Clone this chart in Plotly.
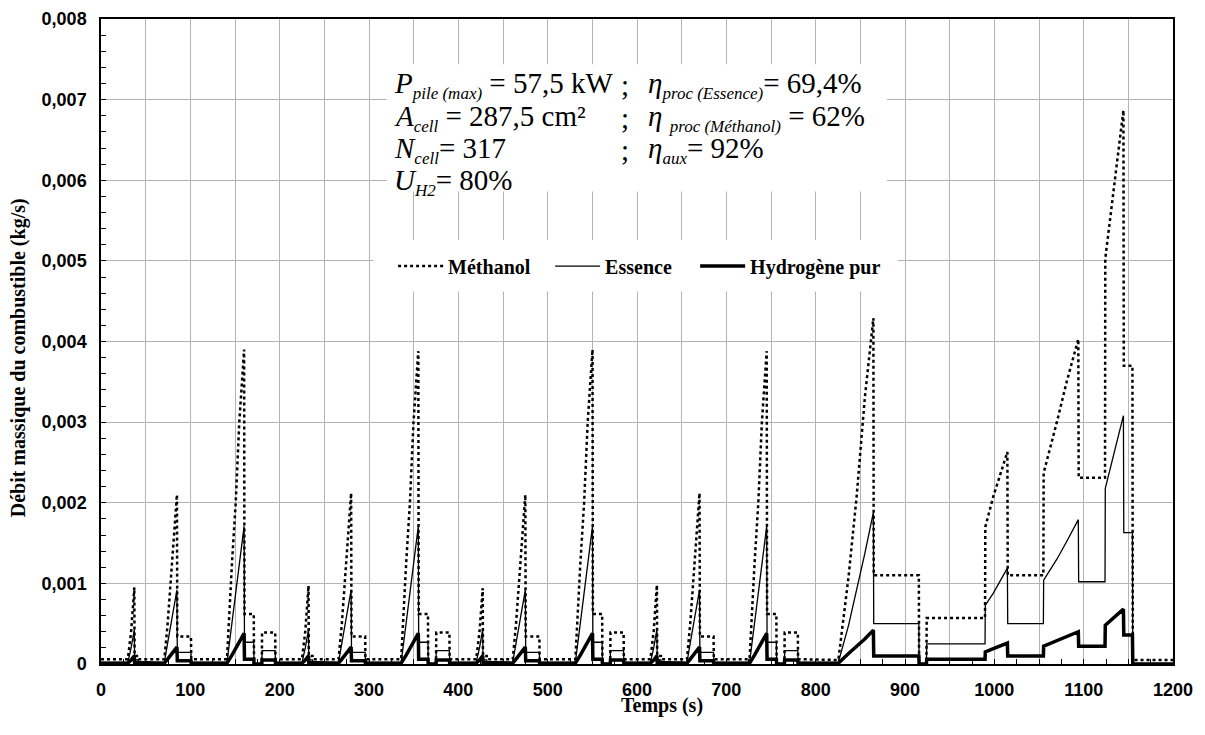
import plotly.graph_objects as go

# ---------------- data ----------------
temps = [
    # cycle urbain 1
    0.0, 30.0, 33.7, 37.3, 37.6, 41.8, 42.1, 70.9, 74.6, 78.4, 85.0, 85.4, 100.7, 101.0,
    141.0, 146.6, 150.8, 154.8, 160.2, 160.6, 171.0, 171.3, 180.0, 180.3, 195.0,
    # cycle urbain 2
    195.3, 225.0, 228.7, 232.3, 232.6, 236.8, 237.1, 265.9, 269.6, 273.4, 280.0, 280.4, 295.7, 296.0,
    336.0, 341.6, 345.8, 349.8, 355.2, 355.6, 366.0, 366.3, 375.0, 375.3, 390.0,
    # cycle urbain 3
    390.3, 420.0, 423.7, 427.3, 427.6, 431.8, 432.1, 460.9, 464.6, 468.4, 475.0, 475.4, 490.7, 491.0,
    531.0, 536.6, 540.8, 544.8, 550.2, 550.6, 561.0, 561.3, 570.0, 570.3, 585.0,
    # cycle urbain 4
    585.3, 615.0, 618.7, 622.3, 622.6, 626.8, 627.1, 655.9, 659.6, 663.4, 670.0, 670.4, 685.7, 686.0,
    726.0, 731.6, 735.8, 739.8, 745.2, 745.6, 756.0, 756.3, 765.0, 765.3, 780.0,
    # cycle extra-urbain
    780.3, 825.4, 836.8, 845.9, 855.0, 864.6, 865.0, 915.5, 915.8, 924.0, 924.3, 989.6, 989.9, 998.9,
    1014.6, 1015.0, 1054.9, 1055.2, 1070.0, 1081.0, 1094.0, 1094.4, 1123.9, 1124.2, 1144.5, 1144.9,
    1154.6, 1155.0, 1200.0,
]

methanol = [
    0.00006, 0.00006, 0.00040, 0.00095, 0.00010, 0.00010, 0.00006, 0.00006, 0.00050, 0.00110, 0.00210, 0.00034, 0.00034, 0.00006,
    0.00006, 0.00125, 0.00200, 0.00300, 0.00390, 0.00062, 0.00062, 0.0, 0.0, 0.00039, 0.00039,
    0.00006, 0.00006, 0.00041, 0.00097, 0.00010, 0.00010, 0.00006, 0.00006, 0.00050, 0.00111, 0.00212, 0.00034, 0.00034, 0.00006,
    0.00006, 0.00125, 0.00200, 0.00300, 0.00388, 0.00062, 0.00062, 0.0, 0.0, 0.00039, 0.00039,
    0.00006, 0.00006, 0.00040, 0.00094, 0.00010, 0.00010, 0.00006, 0.00006, 0.00050, 0.00110, 0.00210, 0.00034, 0.00034, 0.00006,
    0.00006, 0.00125, 0.00200, 0.00300, 0.00390, 0.00062, 0.00062, 0.0, 0.0, 0.00039, 0.00039,
    0.00006, 0.00006, 0.00041, 0.00098, 0.00010, 0.00010, 0.00006, 0.00006, 0.00050, 0.00111, 0.00212, 0.00034, 0.00034, 0.00006,
    0.00006, 0.00125, 0.00200, 0.00300, 0.00388, 0.00062, 0.00062, 0.0, 0.0, 0.00039, 0.00039,
    0.00006, 0.00005, 0.00108, 0.00208, 0.00330, 0.00429, 0.00110, 0.00110, 0.0, 0.0, 0.00057, 0.00057, 0.00170, 0.00208,
    0.00263, 0.00110, 0.00110, 0.00237, 0.00300, 0.00350, 0.00403, 0.00231, 0.00231, 0.00503, 0.00687, 0.00370,
    0.00370, 0.00005, 0.00005,
]

essence = [
    0.00002, 0.00002, 0.00020, 0.00043, 0.00005, 0.00005, 0.00002, 0.00002, 0.00026, 0.00050, 0.00092, 0.000145, 0.000145, 0.00002,
    0.00002, 0.00051, 0.00088, 0.00124, 0.00171, 0.00027, 0.00027, 0.0, 0.0, 0.000165, 0.000165,
    0.00002, 0.00002, 0.00020, 0.00043, 0.00005, 0.00005, 0.00002, 0.00002, 0.00026, 0.00050, 0.00092, 0.000145, 0.000145, 0.00002,
    0.00002, 0.00051, 0.00088, 0.00124, 0.00171, 0.00027, 0.00027, 0.0, 0.0, 0.000165, 0.000165,
    0.00002, 0.00002, 0.00020, 0.00043, 0.00005, 0.00005, 0.00002, 0.00002, 0.00026, 0.00050, 0.00092, 0.000145, 0.000145, 0.00002,
    0.00002, 0.00051, 0.00088, 0.00124, 0.00171, 0.00027, 0.00027, 0.0, 0.0, 0.000165, 0.000165,
    0.00002, 0.00002, 0.00020, 0.00043, 0.00005, 0.00005, 0.00002, 0.00002, 0.00026, 0.00050, 0.00092, 0.000145, 0.000145, 0.00002,
    0.00002, 0.00051, 0.00088, 0.00124, 0.00171, 0.00027, 0.00027, 0.0, 0.0, 0.000165, 0.000165,
    0.00002, 0.00002, 0.00048, 0.00092, 0.00137, 0.00188, 0.00050, 0.00050, 0.0, 0.0, 0.00025, 0.00025, 0.00073, 0.00088,
    0.00119, 0.00050, 0.00050, 0.00104, 0.00130, 0.00152, 0.00179, 0.00102, 0.00102, 0.00218, 0.00308, 0.00163,
    0.00163, 0.0, 0.0,
]

hydrogene = [
    0.00001, 0.00001, 0.00005, 0.00010, 0.00002, 0.00002, 0.00001, 0.00001, 0.00006, 0.00011, 0.00021, 0.00004, 0.00004, 0.00001,
    0.00001, 0.00011, 0.00020, 0.00027, 0.00038, 0.00006, 0.00006, 0.0, 0.0, 0.00005, 0.00005,
    0.00001, 0.00001, 0.00005, 0.00010, 0.00002, 0.00002, 0.00001, 0.00001, 0.00006, 0.00011, 0.00021, 0.00004, 0.00004, 0.00001,
    0.00001, 0.00011, 0.00020, 0.00027, 0.00038, 0.00006, 0.00006, 0.0, 0.0, 0.00005, 0.00005,
    0.00001, 0.00001, 0.00005, 0.00010, 0.00002, 0.00002, 0.00001, 0.00001, 0.00006, 0.00011, 0.00021, 0.00004, 0.00004, 0.00001,
    0.00001, 0.00011, 0.00020, 0.00027, 0.00038, 0.00006, 0.00006, 0.0, 0.0, 0.00005, 0.00005,
    0.00001, 0.00001, 0.00005, 0.00010, 0.00002, 0.00002, 0.00001, 0.00001, 0.00006, 0.00011, 0.00021, 0.00004, 0.00004, 0.00001,
    0.00001, 0.00011, 0.00020, 0.00027, 0.00038, 0.00006, 0.00006, 0.0, 0.0, 0.00005, 0.00005,
    0.00001, 0.00001, 0.00013, 0.00022, 0.00031, 0.00042, 0.00010, 0.00010, 0.0, 0.0, 0.00006, 0.00006, 0.00015, 0.00019,
    0.00026, 0.00010, 0.00010, 0.00022, 0.00029, 0.00034, 0.00040, 0.00022, 0.00022, 0.00048, 0.00068, 0.00036,
    0.00036, 0.0, 0.0,
]

x_tick_values = [0, 100, 200, 300, 400, 500, 600, 700, 800, 900, 1000, 1100, 1200]
x_tick_labels = ["0", "100", "200", "300", "400", "500", "600", "700", "800", "900", "1000", "1100", "1200"]
x_half_grid = [50, 150, 250, 350, 450, 550, 650, 750, 850, 950, 1050, 1150]
y_tick_values = [0, 0.001, 0.002, 0.003, 0.004, 0.005, 0.006, 0.007, 0.008]
y_tick_labels = ["0", "0,001", "0,002", "0,003", "0,004", "0,005", "0,006", "0,007", "0,008"]

series_names = ["Méthanol", "Essence", "Hydrogène pur"]

# ---------------- figure ----------------
serif = "Liberation Serif, Times New Roman, serif"
sans = "Liberation Sans, Arial, sans-serif"
GRID = "#b4b4b4"

fig = go.Figure()
fig.add_trace(go.Scatter(x=temps, y=methanol, mode="lines", name=series_names[0], legendwidth=97,
                         line=dict(color="black", width=2.5, dash="dot")))
fig.add_trace(go.Scatter(x=temps, y=essence, mode="lines", name=series_names[1], legendwidth=85,
                         line=dict(color="black", width=1.3)))
fig.add_trace(go.Scatter(x=temps, y=hydrogene, mode="lines", name=series_names[2],
                         line=dict(color="black", width=3.5)))
# helper (empty) trace so the overlaid axis carrying the half-step grid is drawn
fig.add_trace(go.Scatter(x=[], y=[], xaxis="x2", showlegend=False, hoverinfo="skip"))

fig.update_layout(
    xaxis=dict(
        range=[0, 1200], tickmode="array", tickvals=x_tick_values, ticktext=x_tick_labels,
        showgrid=True, gridcolor=GRID, gridwidth=1,
        ticks="inside", ticklen=5, tickcolor="black",
        minor=dict(dtick=25, tick0=0, ticks="inside", ticklen=5, tickcolor="black", showgrid=False),
        showline=True, linecolor="black", linewidth=1.5, mirror=True,
        tickfont=dict(family=sans, size=18, color="black", weight="bold"),
        ticklabelstandoff=9, automargin=False, zeroline=False,
    ),
    xaxis2=dict(
        range=[0, 1200], overlaying="x", anchor="y", side="bottom",
        tickmode="array", tickvals=x_half_grid, showticklabels=False, ticks="",
        showgrid=True, gridcolor=GRID, gridwidth=1, showline=False, zeroline=False,
        automargin=False,
    ),
    yaxis=dict(
        range=[0, 0.008], tickmode="array", tickvals=y_tick_values, ticktext=y_tick_labels,
        showgrid=True, gridcolor=GRID, gridwidth=1,
        ticks="inside", ticklen=5, tickcolor="black",
        minor=dict(dtick=0.0002, tick0=0, ticks="inside", ticklen=5, tickcolor="black", showgrid=False),
        showline=True, linecolor="black", linewidth=1.5, mirror=True,
        tickfont=dict(family=sans, size=18, color="black", weight="bold"),
        ticklabelstandoff=9, automargin=False, zeroline=False,
    ),
)

# axis titles
fig.add_annotation(x=0.5233, y=-0.0651, xref="paper", yref="paper", text="<b>Temps (s)</b>",
                   showarrow=False, xanchor="center", yanchor="middle",
                   font=dict(family=serif, size=20, color="black"))
fig.add_annotation(x=-0.0774, y=0.474, xref="paper", yref="paper",
                   text="<b>Débit massique du combustible (kg/s)</b>", textangle=-90,
                   showarrow=False, xanchor="center", yanchor="middle",
                   font=dict(family=serif, size=20, color="black"))

# white boxes behind the text block and the legend
fig.add_shape(type="rect", xref="x", yref="y", x0=320, x1=880, y0=0.00586, y1=0.00744,
              fillcolor="white", line=dict(width=0), layer="above")
fig.add_shape(type="rect", xref="x", yref="y", x0=305, x1=892, y0=0.00462, y1=0.00526,
              fillcolor="white", line=dict(width=0), layer="above")

ann_font = dict(family=serif, size=29, color="black")

def sub(s):
    return '<sub><span style="font-size:17px"><i>' + s + '</i></span></sub>'

left_lines = [
    "<i>P</i>" + sub("pile (max)") + " = 57,5 kW",
    "<i>A</i>" + sub("cell") + " = 287,5 cm²",
    "<i>N</i>" + sub("cell") + "= 317",
    "<i>U</i>" + sub("H2") + "= 80%",
]
right_lines = [
    "<i>η</i>" + sub("proc (Essence)") + "= 69,4%",
    "<i>η</i> " + sub("proc (Méthanol)") + " = 62%",
    "<i>η</i>" + sub("aux") + "= 92%",
]
line_y = [0.00718, 0.00677, 0.00638, 0.00598]
for txt, yv in zip(left_lines, line_y):
    fig.add_annotation(x=326, y=yv, xref="x", yref="y", text=txt, showarrow=False,
                       xanchor="left", yanchor="middle", font=ann_font)
for txt, yv in zip(right_lines, line_y[:3]):
    fig.add_annotation(x=587, y=yv, xref="x", yref="y", text=";", showarrow=False,
                       xanchor="center", yanchor="middle", font=ann_font)
    fig.add_annotation(x=610, y=yv, xref="x", yref="y", text=txt, showarrow=False,
                       xanchor="left", yanchor="middle", font=ann_font)

# the page body has an 8 px margin: plot area is placed so it lands at x 101..1173, y 19..664
fig.update_layout(
    width=1189, height=719,
    margin=dict(l=93, r=24, t=11, b=63),
    paper_bgcolor="white", plot_bgcolor="white",
    showlegend=True,
    legend=dict(orientation="h", x=0.2725, y=0.617, xanchor="left", yanchor="middle",
                bgcolor="rgba(0,0,0,0)", font=dict(family=serif, size=20, color="black", weight="bold"),
                itemwidth=45, tracegroupgap=0),
)

fig.write_html("out.html")
